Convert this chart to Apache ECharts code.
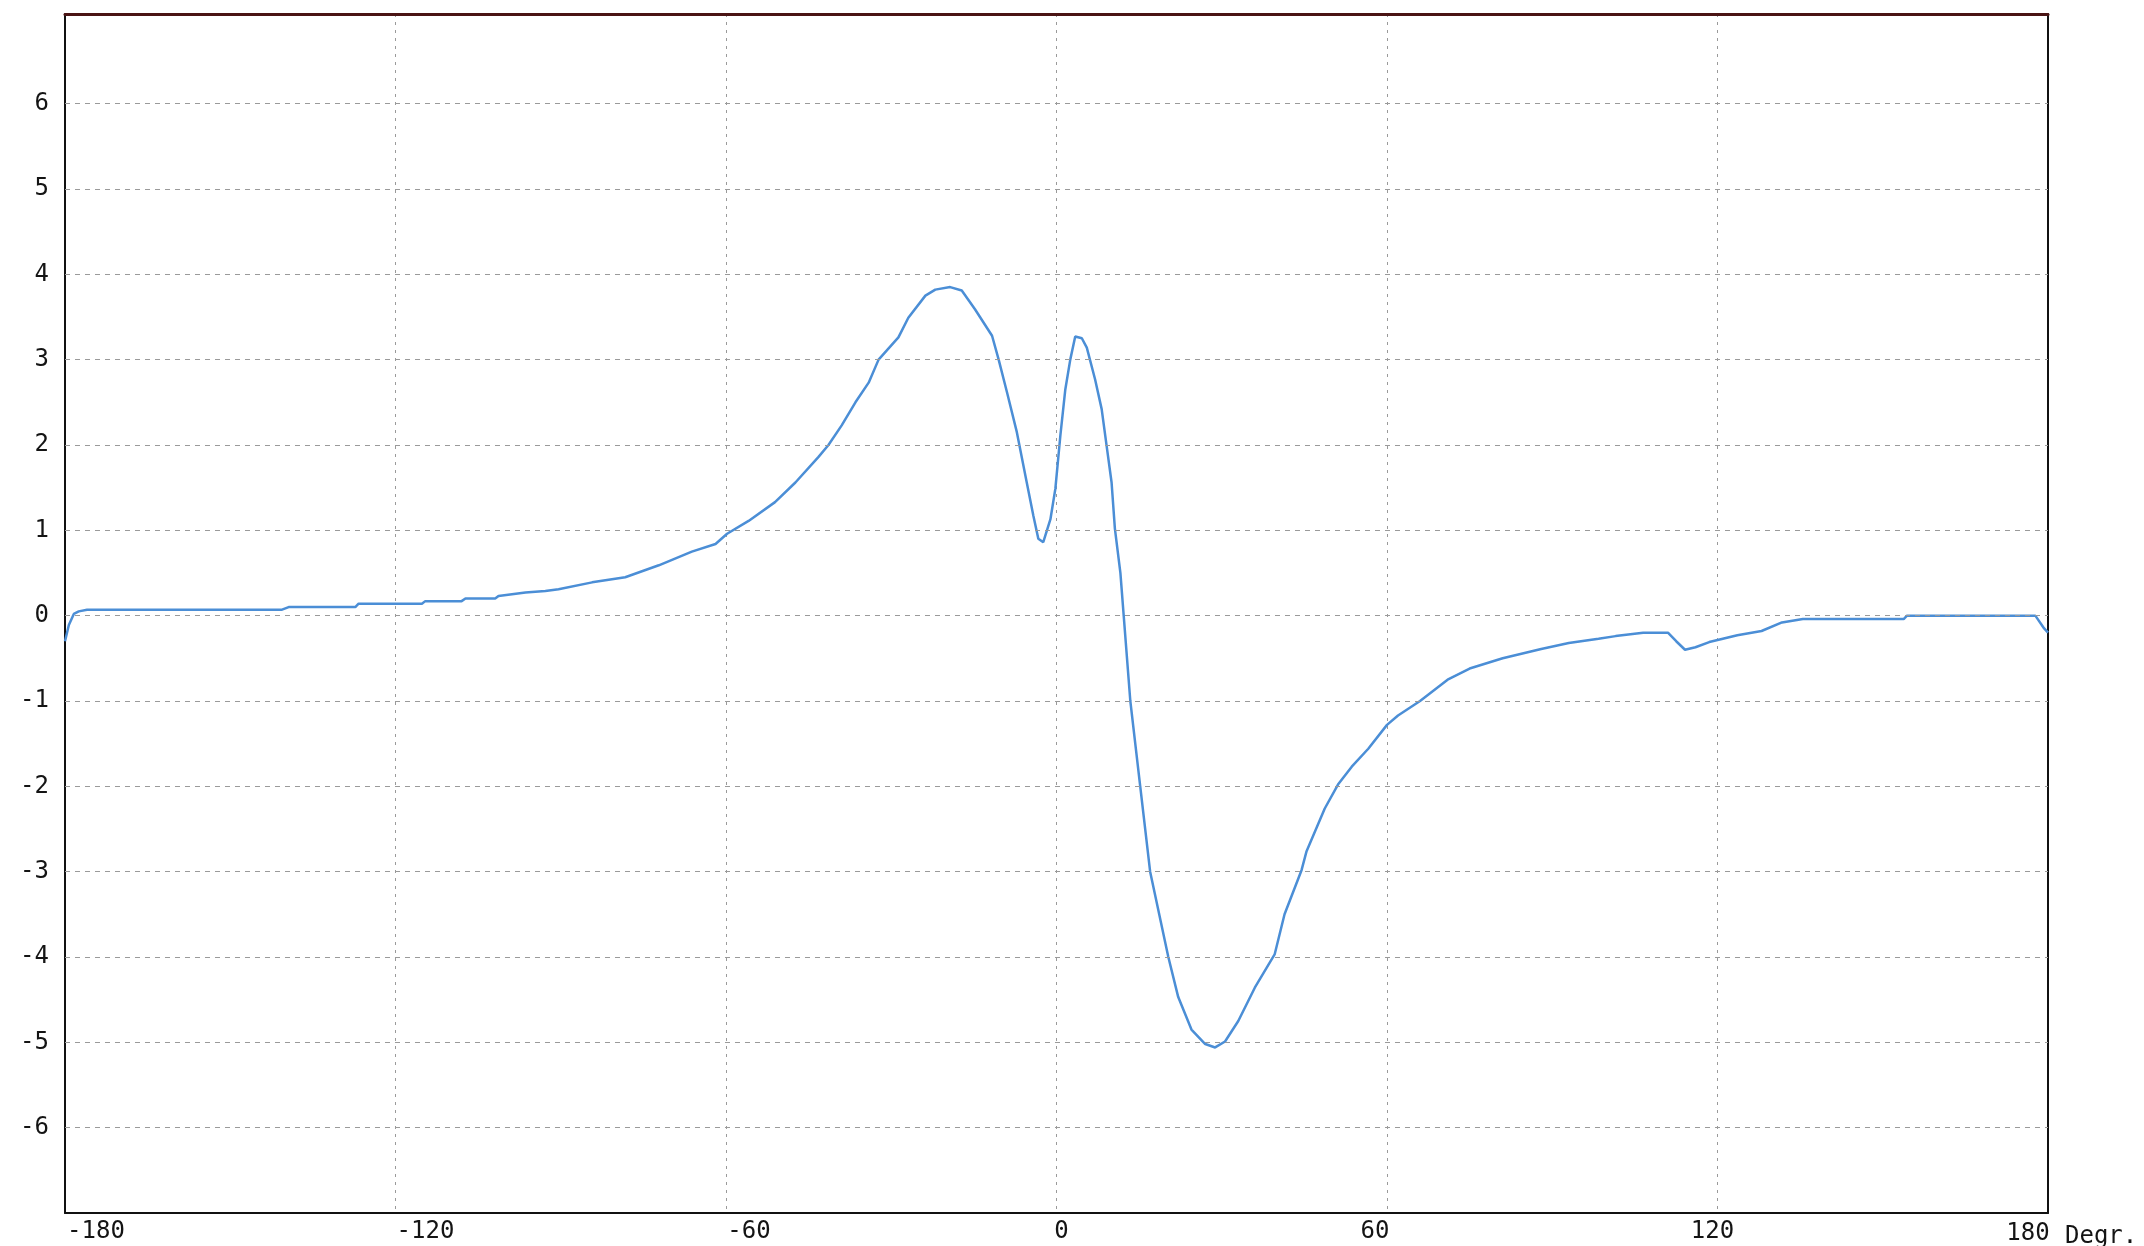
<!DOCTYPE html>
<html>
<head>
<meta charset="utf-8">
<script src="https://cdn.jsdelivr.net/npm/echarts@6/dist/echarts.min.js"></script>
<style>
html,body{margin:0;padding:0;background:#fff;overflow:hidden;}
#chart{width:2144px;height:1246px;}
</style>
</head>
<body>
<div id="chart"></div>
<script>
// Angle in degrees (x) and measured value (y)
var angles = [-180, -179.3, -178.4, -177.5, -176, -140.6, -139.4, -127.3, -126.7, -115.2, -114.6, -108, -107.3, -101.9, -101.3, -96.4, -92.8, -90.4,
  -84.3, -78.3, -72.2, -66.2, -61.9, -59.8, -55.9, -51.1, -47.4, -43.2, -41.4, -39, -36.5, -34.1, -32.3, -28.7, -26.9, -23.8, -22.0, -19.3, -17.2,
  -14.8, -11.7, -10.5, -9.0, -7.2, -5.4, -4.2, -3.3, -2.4, -1.1, -0.2, 0.7, 1.6, 2.5, 3.4, 4.6, 5.5, 7.0, 8.2, 9.1, 10.0, 10.6, 11.6, 12.2,
  13.4, 15.2, 17.0, 20.3, 22.1, 24.5, 27.0, 28.8, 30.6, 33.0, 36.0, 39.6, 41.4, 44.5, 45.4, 48.7, 51.1, 53.6, 56.6, 60, 62, 66, 71, 75, 81, 88, 93,
  98.4, 101.5, 106.5, 111, 112.5, 114.1, 116, 118.5, 120.4, 123.6, 128, 131.7, 135.5, 153.8, 154.4, 177.7, 179.3, 180];
var values = [-0.3, -0.11, 0.02, 0.05, 0.07, 0.07, 0.1, 0.1, 0.14, 0.14, 0.17, 0.17, 0.2, 0.2, 0.23, 0.27, 0.29, 0.31,
  0.39, 0.45, 0.59, 0.75, 0.84, 0.96, 1.11, 1.33, 1.56, 1.86, 2.0, 2.23, 2.5, 2.73, 3.0, 3.26, 3.49, 3.75, 3.82, 3.85, 3.81,
  3.59, 3.28, 3.0, 2.62, 2.15, 1.56, 1.17, 0.9, 0.86, 1.13, 1.49, 2.11, 2.65, 3.0, 3.27, 3.25, 3.14, 2.77, 2.42, 1.99, 1.56, 1.02, 0.5, 0.0,
  -1.0, -2.0, -3.0, -4.0, -4.47, -4.85, -5.02, -5.06, -4.99, -4.75, -4.36, -3.97, -3.5, -2.98, -2.76, -2.26, -1.98, -1.77, -1.56, -1.28, -1.17, -1.0, -0.75, -0.62, -0.5, -0.39, -0.32,
  -0.27, -0.24, -0.2, -0.2, -0.3, -0.4, -0.37, -0.31, -0.28, -0.23, -0.18, -0.08, -0.04, -0.04, 0, 0, -0.15, -0.2];

var xTicks = [-180, -120, -60, 0, 60, 120, 180];
var yTicks = [-6, -5, -4, -3, -2, -1, 0, 1, 2, 3, 4, 5, 6];
var xUnit = 'Degr.';

var points = angles.map(function (a, i) { return [a, values[i]]; });

var font = '"DejaVu Sans Mono", "Liberation Mono", monospace';
var txt = '#141414';

// per-label horizontal nudges (reference layout)
var richX = {
  a: { padding: [0, 0, 0, 62] },
  b: { padding: [0, 0, 0, 60] },
  c: { padding: [0, 0, 0, 46] },
  d: { padding: [0, 0, 0, 10] },
  e: { padding: [0, 24, 0, 0] },
  f: { padding: [0, 10, 0, 0] },
  g: { padding: [5, 40, 0, 0] }
};
var keys = ['a', 'b', 'c', 'd', 'e', 'f', 'g'];

var chart = echarts.init(document.getElementById('chart'), null, { renderer: 'canvas' });
chart.setOption({
  animation: false,
  backgroundColor: '#ffffff',
  grid: { left: 65, right: 96, top: 14, bottom: 33, containLabel: false, outerBoundsMode: 'none' },
  xAxis: [{
    type: 'value', min: -180, max: 180, interval: 60, position: 'bottom',
    axisLine: { show: true, onZero: false, lineStyle: { color: '#111', width: 2 } },
    axisTick: { show: false },
    splitLine: { show: true, lineStyle: { color: '#9a9a9a', width: 1, type: [3, 5] } },
    axisLabel: {
      show: true, margin: 6, align: 'center', verticalAlign: 'top',
      fontFamily: font, fontSize: 24, color: txt, lineHeight: 25,
      formatter: function (v) {
        var i = xTicks.indexOf(v);
        if (i < 0) return '';
        return '{' + keys[i] + '|' + v + '}';
      },
      rich: richX
    },
    name: xUnit, nameLocation: 'end', nameGap: 17, nameMoveOverlap: false,
    nameTextStyle: { fontFamily: font, fontSize: 24, color: txt, align: 'left', verticalAlign: 'top', lineHeight: 25, padding: [11, 0, 0, 0] }
  }, {
    type: 'value', min: -180, max: 180, interval: 60, position: 'top',
    axisLine: { show: true, onZero: false, lineStyle: { color: '#4a1414', width: 3 } },
    axisTick: { show: false }, axisLabel: { show: false }, splitLine: { show: false }
  }],
  yAxis: [{
    type: 'value', min: -7, max: 7.05, interval: 1, position: 'left',
    axisLine: { show: true, onZero: false, lineStyle: { color: '#111', width: 2 } },
    axisTick: { show: false },
    splitLine: { show: false },
    axisLabel: {
      show: true, margin: 16, fontFamily: font, fontSize: 24, color: txt,
      showMinLabel: false, showMaxLabel: false,
      formatter: function (v) { return yTicks.indexOf(v) >= 0 ? String(v) : ''; }
    }
  }, {
    type: 'value', min: -7, max: 7.05, interval: 1, position: 'right',
    axisLine: { show: true, onZero: false, lineStyle: { color: '#111', width: 2 } },
    axisTick: { show: false }, axisLabel: { show: false }, splitLine: { show: false }
  }],
  series: [{
    type: 'line',
    data: [],
    xAxisIndex: 0, yAxisIndex: 0,
    silent: true,
    markLine: {
      silent: true, symbol: 'none', animation: false,
      label: { show: false },
      lineStyle: { color: '#9a9a9a', width: 1, type: [5, 5] },
      data: yTicks.map(function (v) { return { yAxis: v }; })
    }
  }, {
    type: 'line',
    data: points,
    xAxisIndex: 0, yAxisIndex: 0,
    showSymbol: false,
    smooth: false,
    lineStyle: { color: '#4b8ed6', width: 2.5 }
  }]
});
</script>
</body>
</html>
